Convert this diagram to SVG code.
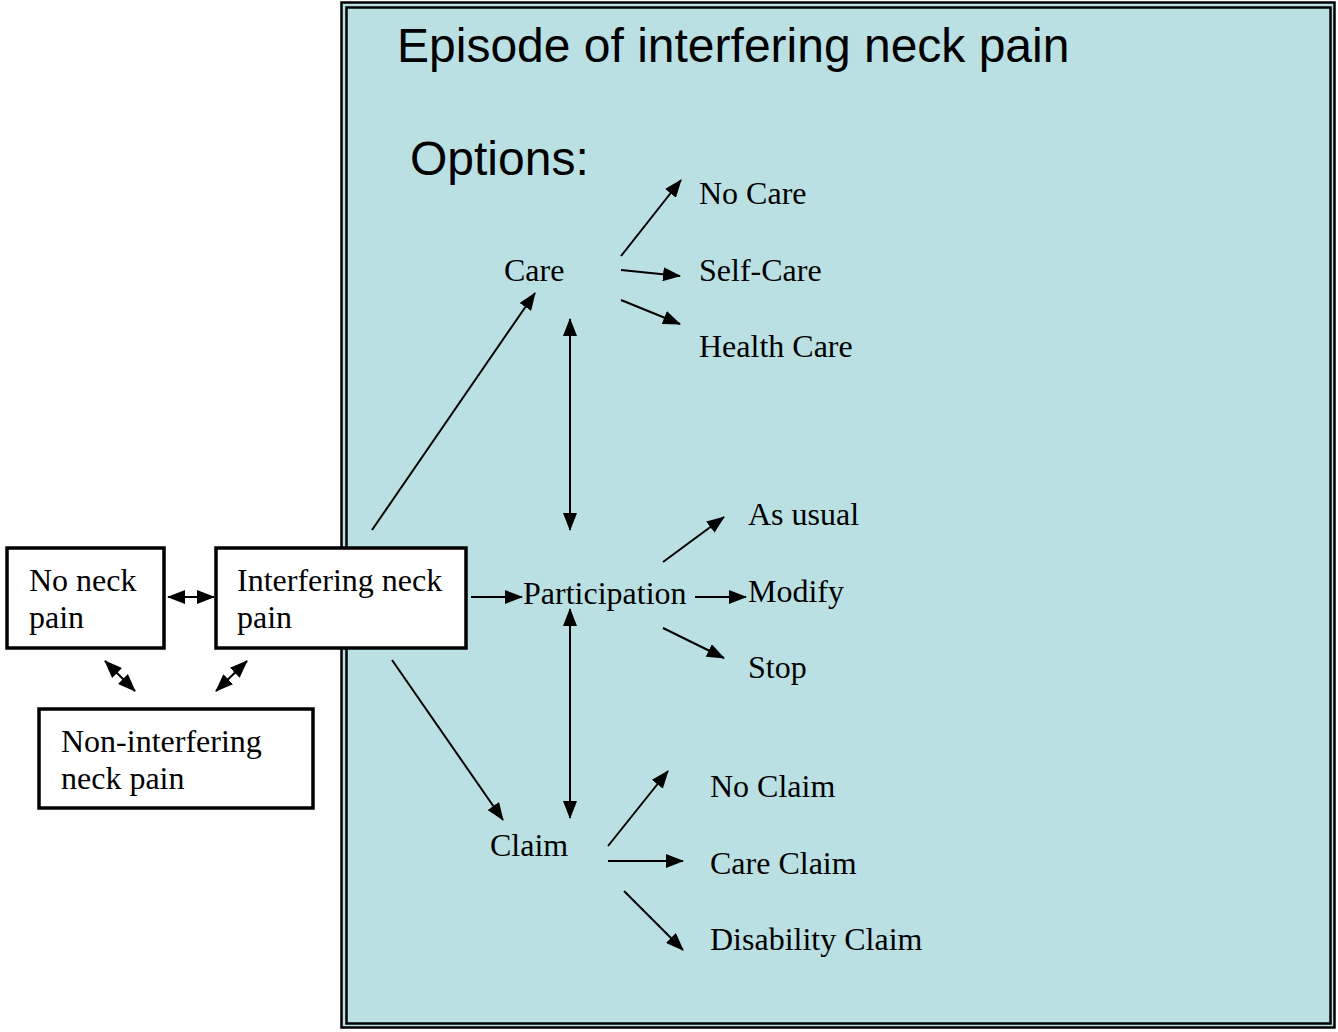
<svg xmlns="http://www.w3.org/2000/svg" width="1338" height="1032" viewBox="0 0 1338 1032">
<defs>
<marker id="ah" markerUnits="userSpaceOnUse" markerWidth="18" markerHeight="14" refX="17" refY="7" orient="auto"><path d="M0,0 L18,7 L0,14 Z" fill="#000"/></marker>
<marker id="as" markerUnits="userSpaceOnUse" markerWidth="18" markerHeight="14" refX="1" refY="7" orient="auto"><path d="M18,0 L0,7 L18,14 Z" fill="#000"/></marker>
</defs>
<style>
.t{font-family:"Liberation Serif","Times New Roman",serif;font-size:32px;fill:#000}
.h{font-family:"Liberation Sans",Arial,sans-serif;font-size:48px;fill:#000}
.box{fill:#fff;stroke:#000;stroke-width:3.5}
.c{stroke:#000;stroke-width:2;fill:none;marker-end:url(#ah)}
.d{stroke:#000;stroke-width:2;fill:none;marker-end:url(#ah);marker-start:url(#as)}
</style>
<rect width="1338" height="1032" fill="#fff"/>
<g id="frame">
<rect x="341.5" y="2.5" width="993" height="1025" fill="#BAE0E3" stroke="#000" stroke-width="2.5"/>
<rect x="346.5" y="7.5" width="984" height="1016" fill="none" stroke="#000" stroke-width="2.5"/>
<text class="h" x="397" y="62">Episode of interfering neck pain</text>
<text class="h" x="410" y="175">Options:</text>
</g>
<g id="connectors">
<line class="d" x1="168" y1="597" x2="214" y2="597"/>
<line class="d" x1="105" y1="661" x2="135" y2="691"/>
<line class="d" x1="247" y1="661" x2="216" y2="691"/>
<line class="c" x1="372" y1="530" x2="535" y2="293"/>
<line class="c" x1="392" y1="660" x2="503" y2="820"/>
<line class="c" x1="471" y1="597" x2="522" y2="597"/>
<line class="c" x1="621" y1="256" x2="681" y2="180"/>
<line class="c" x1="621" y1="270" x2="680" y2="276"/>
<line class="c" x1="621" y1="300" x2="680" y2="324"/>
<line class="d" x1="570" y1="319" x2="570" y2="530"/>
<line class="d" x1="570" y1="609" x2="570" y2="818"/>
<line class="c" x1="663" y1="562" x2="724" y2="517"/>
<line class="c" x1="695" y1="597" x2="746" y2="597"/>
<line class="c" x1="663" y1="628" x2="724" y2="658"/>
<line class="c" x1="608" y1="846" x2="668" y2="771"/>
<line class="c" x1="608" y1="861" x2="683" y2="861"/>
<line class="c" x1="624" y1="891" x2="683" y2="950"/>
</g>
<g id="no-neck-pain">
<rect class="box" x="7" y="548" width="157" height="100"/>
<text class="t" x="29" y="591">No neck</text>
<text class="t" x="29" y="628">pain</text>
</g>
<g id="interfering-neck-pain">
<rect class="box" x="216" y="548" width="250" height="100"/>
<text class="t" x="237" y="591">Interfering neck</text>
<text class="t" x="237" y="628">pain</text>
</g>
<g id="non-interfering-neck-pain">
<rect class="box" x="39" y="709" width="274" height="99"/>
<text class="t" x="61" y="752">Non-interfering</text>
<text class="t" x="61" y="789">neck pain</text>
</g>
<g id="care"><text class="t" x="504" y="281">Care</text></g>
<g id="no-care"><text class="t" x="699" y="204">No Care</text></g>
<g id="self-care"><text class="t" x="699" y="281">Self-Care</text></g>
<g id="health-care"><text class="t" x="699" y="357">Health Care</text></g>
<g id="participation"><text class="t" x="523" y="604">Participation</text></g>
<g id="as-usual"><text class="t" x="748" y="525">As usual</text></g>
<g id="modify"><text class="t" x="748" y="602">Modify</text></g>
<g id="stop"><text class="t" x="748" y="678">Stop</text></g>
<g id="claim"><text class="t" x="490" y="856">Claim</text></g>
<g id="no-claim"><text class="t" x="710" y="797">No Claim</text></g>
<g id="care-claim"><text class="t" x="710" y="874">Care Claim</text></g>
<g id="disability-claim"><text class="t" x="710" y="950">Disability Claim</text></g>
</svg>
